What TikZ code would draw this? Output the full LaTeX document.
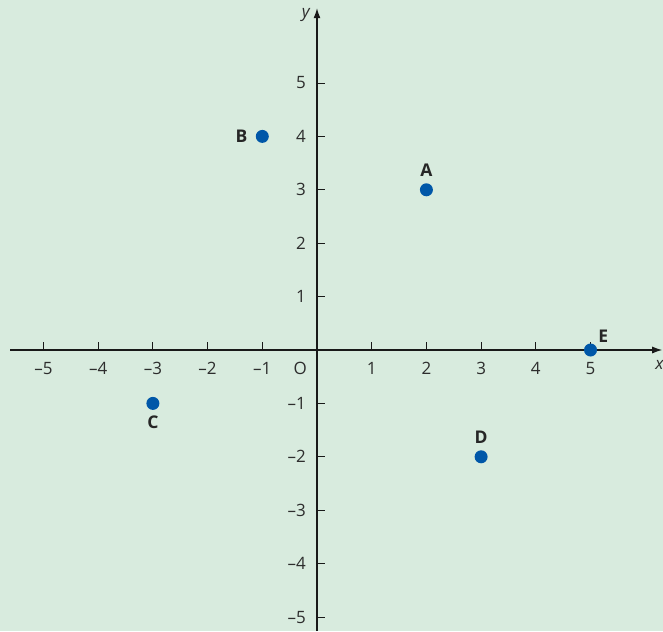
\documentclass[tikz,border=0pt]{standalone}
\usepackage{fontspec}
\setmainfont{Open Sans}
\usetikzlibrary{arrows.meta}
\definecolor{bggreen}{RGB}{216,235,222}
\definecolor{dotblue}{RGB}{0,87,168}
\definecolor{ticktext}{RGB}{45,45,45}

\begin{document}
\begin{tikzpicture}[x=54.7pt,y=53.4pt,
  axis/.style={line width=1.1pt, draw=black!90, -{Latex[length=10pt,width=7pt]}},
  tick/.style={line width=0.9pt, draw=black!90},
  num/.style={font=\fontsize{17}{20}\selectfont, text=ticktext, inner sep=0pt},
  pt/.style={circle, fill=dotblue, inner sep=0pt, minimum size=13pt},
  lbl/.style={font=\fontsize{17.5}{20}\selectfont\bfseries, text=black!85, inner sep=0pt}]
\fill[bggreen] (-5.795,-5.262) rectangle (6.325,6.554);
\useasboundingbox (-5.795,-5.262) rectangle (6.325,6.554);
% axes
\coordinate (xstart) at (-5.61,0);
\coordinate (xend) at (6.31,0);
\coordinate (ystart) at (0,-5.262);
\coordinate (yend) at (0,6.40);
\draw[axis] (xstart) -- (xend);
\draw[axis] (ystart) -- (yend);
\node[num, anchor=north west, font=\fontsize{17}{20}\selectfont\itshape] (xlab) at ([yshift=-10pt]6.18,0) {x};
\node[num, anchor=east, font=\fontsize{17}{20}\selectfont\itshape] (ylab) at ([xshift=-7pt]0,6.27) {y};
\node[num, anchor=north east] (origin) at ([shift={(-10pt,-12pt)}]0,0) {O};
% ticks
\foreach \i in {-5,...,-1,1,2,...,5} {
  \draw[tick] (\i,0) -- ++(0,8pt);
  \draw[tick] (0,\i) -- ++(8pt,0);
}
\foreach \i in {1,...,5} {
  \node[num, anchor=north] at ([yshift=-12pt]\i,0) {\i};
  \node[num, anchor=north] at ([yshift=-12pt]-\i,0) {\textendash\i};
  \node[num, anchor=east] at ([xshift=-11pt]0,\i) {\i};
  \node[num, anchor=east] at ([xshift=-11pt]0,-\i) {\textendash\i};
}
% points
\node[pt, label={[lbl, label distance=6pt]above:A}] (A) at (2,3) {};
\node[pt, label={[lbl, label distance=8pt]left:B}] (B) at (-1,4) {};
\node[pt, label={[lbl, label distance=6pt]below:C}] (C) at (-3,-1) {};
\node[pt, label={[lbl, label distance=6pt]above:D}] (D) at (3,-2) {};
\node[pt, label={[lbl, anchor=south west, label distance=0pt, xshift=3pt, yshift=3pt]45:E}] (E) at (5,0) {};
\end{tikzpicture}
\end{document}
